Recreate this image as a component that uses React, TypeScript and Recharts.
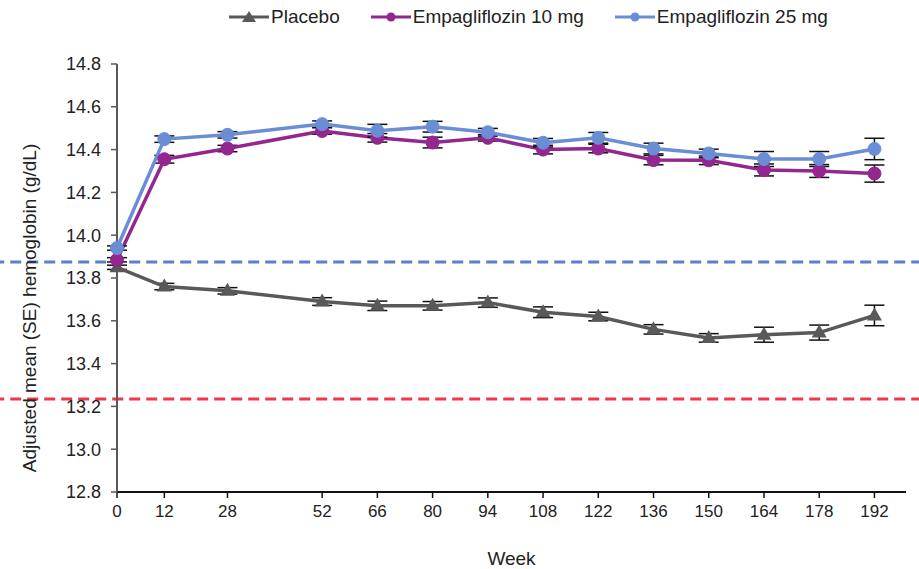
import { LineChart, Line, XAxis, YAxis, ErrorBar, ReferenceLine, Legend } from "recharts";

// weeks of follow-up
const weeks = [0, 12, 28, 52, 66, 80, 94, 108, 122, 136, 150, 164, 178, 192];

// adjusted mean hemoglobin (g/dL) and SE
const placebo = [13.85, 13.76, 13.74, 13.69, 13.67, 13.67, 13.685, 13.64, 13.62, 13.56, 13.52, 13.535, 13.545, 13.625];
const placeboSE = [0.01, 0.015, 0.015, 0.018, 0.022, 0.02, 0.022, 0.025, 0.02, 0.022, 0.02, 0.035, 0.035, 0.048];
const empa10 = [13.885, 14.355, 14.405, 14.487, 14.455, 14.433, 14.455, 14.4, 14.405, 14.351, 14.35, 14.305, 14.3, 14.288];
const empa10SE = [0.01, 0.018, 0.015, 0.015, 0.02, 0.025, 0.015, 0.02, 0.02, 0.022, 0.02, 0.028, 0.03, 0.04];
const empa25 = [13.94, 14.449, 14.469, 14.519, 14.488, 14.507, 14.481, 14.432, 14.455, 14.405, 14.382, 14.356, 14.356, 14.403];
const empa25SE = [0.01, 0.015, 0.015, 0.015, 0.03, 0.025, 0.018, 0.02, 0.025, 0.025, 0.02, 0.035, 0.035, 0.05];

const yTicks = [12.8, 13.0, 13.2, 13.4, 13.6, 13.8, 14.0, 14.2, 14.4, 14.6, 14.8];

// dashed horizontal reference levels
const refBlue = 13.875;
const refRed = 13.235;

const GREY = "#595959";
const PURPLE = "#93268F";
const BLUE = "#6A8ED6";
const FONT = "'Liberation Sans', Arial, sans-serif";

const data = weeks.map((w, i) => ({
  week: w,
  placebo: placebo[i],
  placeboSE: placeboSE[i],
  empa10: empa10[i],
  empa10SE: empa10SE[i],
  empa25: empa25[i],
  empa25SE: empa25SE[i],
}));

function TriangleDot(props: any) {
  const { cx, cy, index } = props;
  if (cx == null || cy == null) return null;
  return (
    <polygon
      key={"tri-" + index}
      points={`${cx},${cy - 8} ${cx - 7.5},${cy + 5} ${cx + 7.5},${cy + 5}`}
      fill={GREY}
    />
  );
}

const legendItems = [
  { name: "Placebo", color: GREY, shape: "triangle" },
  { name: "Empagliflozin 10 mg", color: PURPLE, shape: "circle" },
  { name: "Empagliflozin 25 mg", color: BLUE, shape: "circle" },
];

function LegendContent() {
  return (
    <div style={{ display: "flex", justifyContent: "center", gap: 31, fontFamily: FONT, fontSize: 19, color: "#222" }}>
      {legendItems.map((it) => (
        <div key={it.name} style={{ display: "flex", alignItems: "center" }}>
          <svg width={40} height={14} style={{ marginRight: 2 }}>
            <line x1={0} y1={7} x2={40} y2={7} stroke={it.color} strokeWidth={3} />
            {it.shape === "triangle" ? (
              <polygon points="20,1 13,12 27,12" fill={it.color} />
            ) : (
              <circle cx={20} cy={7} r={4.5} fill={it.color} />
            )}
          </svg>
          <span>{it.name}</span>
        </div>
      ))}
    </div>
  );
}

export default function App() {
  return (
    <div>
      <style>{"body{margin:0;background:#fff}"}</style>
      <LineChart
        width={919}
        height={569}
        data={data}
        margin={{ top: 64, right: 13, bottom: 0, left: 0 }}
        style={{ fontFamily: FONT }}
      >
        <XAxis
          dataKey="week"
          type="number"
          domain={[0, 200]}
          ticks={weeks}
          height={77}
          tickLine={{ stroke: "#111", strokeWidth: 1.5 }}
          axisLine={{ stroke: "#111", strokeWidth: 2 }}
          tickSize={6}
          tickMargin={7}
          tick={{ fill: "#222", fontSize: 17 }}
          label={{ value: "Week", position: "insideBottom", offset: 4, fill: "#222", fontSize: 19 }}
        />
        <YAxis
          type="number"
          domain={[12.8, 14.8]}
          ticks={yTicks}
          width={117}
          tickFormatter={(v: number) => v.toFixed(1)}
          tickLine={{ stroke: GREY, strokeWidth: 1.5 }}
          axisLine={{ stroke: GREY, strokeWidth: 2 }}
          tickSize={6}
          tickMargin={10}
          tick={{ fill: "#222", fontSize: 18 }}
          label={{
            value: "Adjusted mean (SE) hemoglobin (g/dL)",
            angle: -90,
            position: "center",
            dx: -29,
            dy: 30,
            fill: "#222",
            fontSize: 19,
          }}
        />
        <Legend
          verticalAlign="middle"
          align="center"
          layout="horizontal"
          content={<LegendContent />}
          wrapperStyle={{ top: 6, left: 69, width: 919 }}
        />
        <ReferenceLine
          segment={[{ x: -40, y: refBlue }, { x: 220, y: refBlue }]}
          ifOverflow="visible"
          stroke="#5B7FCB"
          strokeWidth={3}
          strokeDasharray="11 6"
        />
        <ReferenceLine
          segment={[{ x: -40, y: refRed }, { x: 220, y: refRed }]}
          ifOverflow="visible"
          stroke="#F0384A"
          strokeWidth={3}
          strokeDasharray="11 6"
        />
        <Line
          dataKey="placebo"
          stroke={GREY}
          strokeWidth={3.5}
          dot={<TriangleDot />}
          activeDot={false}
          isAnimationActive={false}
        >
          <ErrorBar dataKey="placeboSE" direction="y" width={10} stroke="#111" strokeWidth={1.5} isAnimationActive={false} />
        </Line>
        <Line
          dataKey="empa10"
          stroke={PURPLE}
          strokeWidth={3.5}
          dot={{ r: 6.5, fill: PURPLE, stroke: PURPLE, strokeWidth: 1 }}
          activeDot={false}
          isAnimationActive={false}
        >
          <ErrorBar dataKey="empa10SE" direction="y" width={10} stroke="#111" strokeWidth={1.5} isAnimationActive={false} />
        </Line>
        <Line
          dataKey="empa25"
          stroke={BLUE}
          strokeWidth={3.5}
          dot={{ r: 6.5, fill: BLUE, stroke: BLUE, strokeWidth: 1 }}
          activeDot={false}
          isAnimationActive={false}
        >
          <ErrorBar dataKey="empa25SE" direction="y" width={10} stroke="#111" strokeWidth={1.5} isAnimationActive={false} />
        </Line>
      </LineChart>
    </div>
  );
}
